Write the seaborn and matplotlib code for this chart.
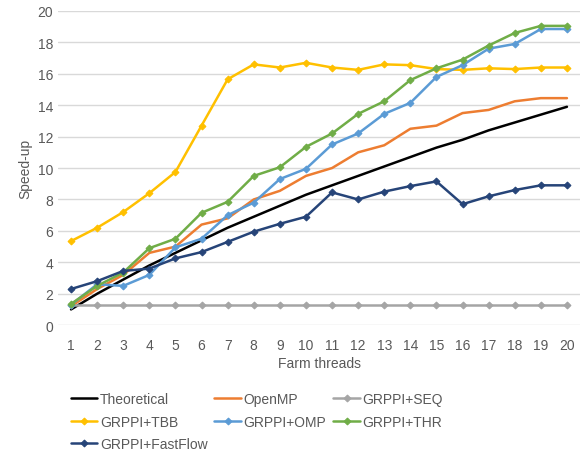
import numpy as np
import pandas as pd
import matplotlib
matplotlib.use('Agg')
import matplotlib.pyplot as plt
import seaborn as sns

threads = list(range(1, 21))

theoretical = [1.0, 2.0, 2.9, 3.8, 4.6, 5.4, 6.2, 6.9, 7.6, 8.3,
               8.9, 9.5, 10.1, 10.7, 11.3, 11.8, 12.4, 12.9, 13.4, 13.9]
openmp = [1.2, 2.3, 3.2, 4.6, 5.0, 6.4, 6.8, 8.0, 8.55, 9.5,
          10.0, 11.0, 11.45, 12.5, 12.7, 13.5, 13.7, 14.25, 14.45, 14.45]
grppi_seq = [1.3] * 20
grppi_tbb = [5.35, 6.2, 7.2, 8.4, 9.75, 12.7, 15.65, 16.6, 16.4, 16.7,
             16.4, 16.25, 16.6, 16.55, 16.3, 16.25, 16.35, 16.3, 16.4, 16.4]
grppi_omp = [1.3, 2.6, 2.5, 3.2, 4.95, 5.5, 7.0, 7.8, 9.3, 9.95,
             11.5, 12.2, 13.45, 14.15, 15.8, 16.55, 17.6, 17.9, 18.85, 18.85]
grppi_thr = [1.35, 2.5, 3.35, 4.9, 5.5, 7.15, 7.85, 9.5, 10.05, 11.35,
             12.2, 13.45, 14.25, 15.6, 16.35, 16.9, 17.8, 18.6, 19.05, 19.05]
grppi_ff = [2.3, 2.8, 3.45, 3.6, 4.25, 4.65, 5.3, 5.95, 6.45, 6.9,
            8.45, 8.0, 8.5, 8.85, 9.15, 7.7, 8.2, 8.6, 8.9, 8.9]

series_names = ['Theoretical', 'OpenMP', 'GRPPI+SEQ', 'GRPPI+TBB',
                'GRPPI+OMP', 'GRPPI+THR', 'GRPPI+FastFlow']
series_values = [theoretical, openmp, grppi_seq, grppi_tbb,
                 grppi_omp, grppi_thr, grppi_ff]
colors = ['#000000', '#ED7D31', '#A5A5A5', '#FFC000',
          '#5B9BD5', '#70AD47', '#264478']
markers = [None, None, 'D', 'D', 'D', 'D', 'D']

df = pd.DataFrame({
    'threads': threads * len(series_names),
    'speedup': np.concatenate(series_values),
    'series': np.repeat(series_names, len(threads)),
})

sns.set_style('white')
plt.rcParams['font.family'] = ['Liberation Sans', 'DejaVu Sans']
text_color = '#595959'

fig = plt.figure(figsize=(5.8, 4.6), dpi=100)
ax = fig.add_axes([0.1, 0.291, 0.9, 0.683])

for name, col, mk in zip(series_names, colors, markers):
    sub = df[df['series'] == name]
    sns.lineplot(data=sub, x='threads', y='speedup', ax=ax, color=col,
                 linewidth=1.8, marker=mk, markersize=3.5,
                 markeredgecolor=col, label=name, zorder=3)

ax.set_xlim(0.5, 20.5)
ax.set_ylim(0, 20)
ax.set_xticks(threads)
ax.set_yticks(range(0, 21, 2))
ax.grid(axis='y', color='#d9d9d9', linewidth=1)
ax.grid(axis='x', visible=False)
for s in ax.spines.values():
    s.set_visible(False)
ax.tick_params(axis='both', colors=text_color, labelsize=10, length=0)
ax.tick_params(axis='x', length=3, color='#d9d9d9', pad=6)
ax.set_xlabel('Farm threads', color=text_color, fontsize=10, labelpad=3)
ax.set_ylabel('Speed-up', color=text_color, fontsize=10, labelpad=4)

# legend filled row by row, as in the original
handles, labels = ax.get_legend_handles_labels()
ax.legend_.remove()
order = [0, 3, 6, 1, 4, 2, 5]
fig.legend([handles[i] for i in order], [labels[i] for i in order],
           ncol=3, loc='upper left',
           bbox_to_anchor=(0.11, 0.16), frameon=False, fontsize=10,
           handlelength=1.9, handletextpad=0.2, columnspacing=0.5,
           labelspacing=0.6, borderpad=0, labelcolor=text_color)

fig.savefig('out.png', dpi=100)
